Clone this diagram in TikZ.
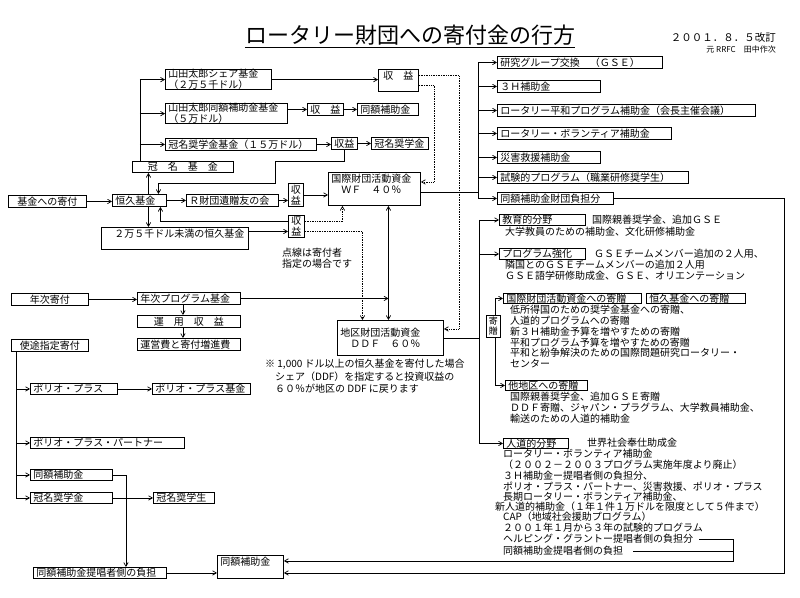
\documentclass[tikz,border=0pt]{standalone}
\usepackage{fontspec}
\setmainfont{Noto Sans CJK JP}
\usetikzlibrary{arrows}

\begin{document}
\begin{tikzpicture}[x=1pt,y=-1pt]
    \tikzset{box/.style = {draw,line width=0.9pt,anchor=north west,inner xsep=3pt,inner ysep=0pt,minimum height=12pt,align=left,font=\fontsize{10}{11}\selectfont}}
    \tikzset{txt/.style = {anchor=north west,inner sep=0pt,align=left,font=\fontsize{10}{10.8}\selectfont}}
    \tikzset{flow/.style = {->,> = angle 60,line width=0.7pt}}
    \tikzset{dotflow/.style = {densely dotted,line width=0.9pt}}
    \useasboundingbox (0,0) rectangle (800,597);
    % title
    \node[inner sep=0pt,font=\fontsize{22}{24}\selectfont] (title) at (410,35) {ロータリー財団への寄付金の行方};
    \draw[line width=1.6pt] ([yshift=-2pt]title.south west) -- ([yshift=-2pt]title.south east);
    \node[txt,anchor=north east,font=\fontsize{10.5}{11}\selectfont] (date) at (776,32) {２００１．８．５改訂};
    \node[txt,anchor=north east,font=\fontsize{8}{9}\selectfont] (author) at (776,46) {元 RRFC　田中作次};
    % endowment side
    \node[box,text width=100pt] (yshare) at (165,69) {山田太郎シェア基金\\（２万５千ドル）};
    \node[box,text width=116pt] (ymatch) at (165,103) {山田太郎同額補助金基金\\（５万ドル）};
    \node[box,text width=145pt] (kanfund) at (165,138) {冠名奨学金基金（１５万ドル）};
    \node[box,text width=34pt,minimum height=22pt,align=center] (inc1) at (378,69) {収　益\\\mbox{}};
    \node[box,text width=30pt,align=center] (inc2) at (307,103) {収　益};
    \node[box,text width=55pt] (mgrant1) at (357,103) {同額補助金};
    \node[box,text width=20pt,align=center] (inc3) at (331,137) {収益};
    \node[box,text width=51pt] (kanschol1) at (371,137) {冠名奨学金};
    \node[box,text width=95pt,minimum height=11pt,align=center] (kanmei) at (132,161) {冠　名　基　金};
    \node[box,text width=72pt,align=center] (kifu) at (8,195) {基金への寄付};
    \node[box,text width=48pt] (kokyu) at (112,194) {恒久基金};
    \node[box,text width=86pt] (bequest) at (186,194) {Ｒ財団遺贈友の会};
    \node[box,text width=11pt,inner xsep=2pt,align=center,minimum height=23pt] (inc4) at (288,183) {収\\益};
    \node[box,text width=86pt,minimum height=33pt] (wf) at (328,172) {国際財団活動資金\\　ＷＦ　４０％\\\mbox{}};
    \node[box,text width=12pt,inner xsep=2pt,align=center,minimum height=22pt] (inc5) at (288,215) {収\\益};
    \node[box,text width=141pt,minimum height=22pt] (under25) at (101,227) {　２万５千ドル未満の恒久基金\\\mbox{}};
    \node[txt] (dotnote) at (282,248) {点線は寄付者\\指定の場合です};
    % annual and designated giving
    \node[box,text width=71pt,align=center] (annual) at (11,293) {年次寄付};
    \node[box,text width=97pt] (annprog) at (137,292) {年次プログラム基金};
    \node[box,text width=97pt,align=center] (unyo) at (137,315) {運　用　収　益};
    \node[box,text width=97pt] (unei) at (137,338) {運営費と寄付増進費};
    \node[box,text width=71pt,align=center] (shito) at (11,339) {使途指定寄付};
    \node[box,text width=100pt,minimum height=35pt] (ddf) at (337,320) {地区財団活動資金\\　ＤＤＦ　６０％};
    \node[txt,font=\fontsize{10}{12.5}\selectfont] (ddfnote) at (265,359) {※ 1,000 ドル以上の恒久基金を寄付した場合\\　シェア（DDF）を指定すると投資収益の\\　６０％が地区の DDF に戻ります};
    \node[box,text width=81pt,minimum height=11pt] (polio) at (30,383) {ポリオ・プラス};
    \node[box,text width=92pt,minimum height=11pt] (poliofund) at (152,383) {ポリオ・プラス基金};
    \node[box,text width=148pt,minimum height=11pt] (partner) at (30,437) {ポリオ・プラス・パートナー};
    \node[box,text width=76pt,minimum height=11pt] (match2) at (30,469) {同額補助金};
    \node[box,text width=76pt,minimum height=11pt] (kanschol2) at (30,492) {冠名奨学金};
    \node[box,text width=55pt,minimum height=11pt] (kanstud) at (153,492) {冠名奨学生};
    \node[box,text width=127pt,minimum height=11pt] (sponsor) at (33,567) {同額補助金提唱者側の負担};
    \node[box,text width=60pt,minimum height=23pt] (match3) at (217,555) {同額補助金\\\mbox{}};
    % WF programmes
    \node[box,text width=159pt] (gse) at (497,56) {研究グループ交換　（ＧＳＥ）};
    \node[box,text width=97pt] (threeH) at (497,80) {３Ｈ補助金};
    \node[box,text width=252pt] (peace) at (497,104) {ロータリー平和プログラム補助金（会長主催会議）};
    \node[box,text width=168pt] (volunteer) at (497,127) {ロータリー・ボランティア補助金};
    \node[box,text width=97pt] (disaster) at (497,151) {災害救援補助金};
    \node[box,text width=185pt] (pilot) at (497,171) {試験的プログラム（職業研修奨学生）};
    \node[box,text width=110pt] (fdshare) at (497,192) {同額補助金財団負担分};
    % DDF programmes
    \node[box,text width=80pt,minimum height=11pt] (edu) at (499,214) {教育的分野};
    \node[txt,anchor=west] (edutxt) at (592,220) {国際親善奨学金、追加ＧＳＥ};
    \node[txt] (edutxt2) at (505,227) {大学教員のための補助金、文化研修補助金};
    \node[box,text width=80pt,minimum height=11pt] (prog) at (499,248) {プログラム強化};
    \node[txt,anchor=west] (progtxt) at (594,254) {ＧＳＥチームメンバー追加の２人用、};
    \node[txt] (progtxt2) at (505,260) {隣国とのＧＳＥチームメンバーの追加２人用\\ＧＳＥ語学研修助成金、ＧＳＥ、オリエンテーション};
    \node[box,text width=132pt,minimum height=10pt] (wfdon) at (503,293) {国際財団活動資金への寄贈};
    \node[box,text width=93pt,minimum height=10pt] (endow) at (646,293) {恒久基金への寄贈};
    \node[txt] (wfdontxt) at (510,305) {低所得国のための奨学金基金への寄贈、\\人道的プログラムへの寄贈\\新３Ｈ補助金予算を増やすための寄贈\\平和プログラム予算を増やすための寄贈\\平和と紛争解決のための国際問題研究ロータリー・\\センター};
    \node[box,text width=76pt,minimum height=10pt] (otherdist) at (505,380) {他地区への寄贈};
    \node[txt] (otherdisttxt) at (510,392) {国際親善奨学金、追加ＧＳＥ寄贈\\ＤＤＦ寄贈、ジャパン・プラグラム、大学教員補助金、\\輸送のための人道的補助金};
    \node[box,text width=59pt,minimum height=10pt] (human) at (503,438) {人道的分野};
    \node[txt,anchor=west] (humantxt) at (587,443) {世界社会奉仕助成金};
    \node[txt] (humantxt2) at (503,449) {ロータリー・ボランティア補助金\\（２００２－２００３プログラム実施年度より廃止）\\３Ｈ補助金ー提唱者側の負担分、\\ポリオ・プラス・パートナー、災害救援、ポリオ・プラス\\長期ロータリー・ボランティア補助金、};
    \node[txt] (humantxt3) at (495,502) {新人道的補助金（１年１件１万ドルを限度として５件まで）};
    \node[txt] (humantxt4) at (503,512) {CAP（地域社会援助プログラム）\\２００１年１月から３年の試験的プログラム};
    \node[txt,anchor=west] (helping) at (503,539) {ヘルピング・グラントー提唱者側の負担分};
    \node[txt,anchor=west] (sponsor2) at (503,551) {同額補助金提唱者側の負担};
    % edges, endowment
    \draw[flow] (kifu.east) -- (kifu.east -| kokyu.west);
    \draw[flow] (kokyu.east) -- (kokyu.east -| bequest.west);
    \draw[flow] (bequest.east) -- (bequest.east -| inc4.west);
    \draw[flow] (inc4.east) -- (inc4.east -| wf.west);
    \coordinate (ktrunk) at ([xshift=-43pt]kanmei.north);
    \draw (ktrunk) -- (ktrunk |- yshare.west);
    \foreach \n in {yshare,ymatch,kanfund} \draw[flow] (ktrunk |- \n.west) -- (\n.west);
    \coordinate (kup) at ([xshift=9pt]kokyu.north);
    \coordinate (kdn) at ([xshift=9pt]kokyu.south);
    \draw[flow] (kup) -- (kup |- kanmei.south);
    \draw[flow] (kdn) -- (kdn |- under25.north);
    \draw[flow] (yshare.east) -- (yshare.east -| inc1.west);
    \draw[flow] (inc2.west -| ymatch.east) -- (inc2.west);
    \draw[flow] (inc2) -- (mgrant1);
    \draw[flow] (kanfund.east) -- (kanfund.east -| inc3.west);
    \draw[flow] (inc3) -- (kanschol1);
    \coordinate (kret) at ([xshift=19pt]kokyu.north);
    \draw[flow] (inc3.south) -- ++(0,11) -| ++(-69,22) -| (kret);
    \coordinate (i5a) at ([yshift=5pt]inc5.west);
    \coordinate (i5b) at ([yshift=-5pt]inc5.west);
    \coordinate (kret2) at ([xshift=21pt]kokyu.south);
    \draw[flow] (i5a) -| (kret2);
    \draw[flow] (i5b -| under25.east) -- (i5b);
    % dotted = donor designated
    \coordinate (i1a) at ([yshift=5pt]inc1.east);
    \coordinate (i1b) at ([yshift=-5pt]inc1.east);
    \coordinate (ddfin) at ([yshift=9pt]ddf.east);
    \coordinate (wfin) at ([yshift=7pt]wf.east);
    \draw[dotflow,flow] (i1a) -- ++(40,0) |- (ddfin);
    \draw[dotflow,flow] (i1b) -- ++(15,0) |- (wfin);
    \coordinate (i5c) at ([yshift=5pt]inc5.east);
    \coordinate (i5d) at ([yshift=-5pt]inc5.east);
    \draw[dotflow,flow] (i5c) -| ([xshift=-32pt]wf.south);
    \draw[dotflow,flow] (i5d) -| ([xshift=-28pt]ddf.north);
    % WF <-> DDF
    \coordinate (wfbot) at ([xshift=14pt]wf.south);
    \draw[<->,>=angle 60,line width=0.7pt] (wfbot) -- (wfbot |- ddf.north);
    \draw[flow] (annprog.east) -- (annprog.east -| wfbot);
    \draw[flow] (annual.east) -- (annual.east -| annprog.west);
    \draw[flow] ([xshift=-6pt]annprog.south) -- ([xshift=-6pt]unyo.north);
    \draw[flow] ([xshift=-6pt]unyo.south) -- ([xshift=-6pt]unei.north);
    % WF list
    \coordinate (rtrunk) at ([xshift=-19pt]gse.west);
    \draw (rtrunk) -- (rtrunk |- fdshare.west);
    \draw ([yshift=-3pt]wf.east) -- ([yshift=-3pt]wf.east -| rtrunk);
    \foreach \n in {gse,threeH,peace,volunteer,disaster,pilot,fdshare} \draw[flow] (rtrunk |- \n.west) -- (\n.west);
    % DDF list
    \coordinate (ltrunk) at ([xshift=-20pt]edu.west);
    \draw (ltrunk) -- (ltrunk |- human.west);
    \draw (ddf.east) -- (ddf.east -| ltrunk);
    \foreach \n in {edu,prog,human} \draw[flow] (ltrunk |- \n.west) -- (\n.west);
    \coordinate (gtrunk) at ([xshift=-8pt]wfdon.west);
    \draw (gtrunk) -- (gtrunk |- otherdist.west);
    \foreach \n in {wfdon,otherdist} \draw[flow] (gtrunk |- \n.west) -- (\n.west);
    \node[box,fill=white,inner xsep=1pt,text width=12pt,align=center,minimum height=22pt,font=\fontsize{9}{10}\selectfont] (kizo) at (486,315) {寄\\贈};
    % matching grants
    \coordinate (m3a) at ([yshift=6pt]match3.east);
    \coordinate (m3b) at ([yshift=-6pt]match3.east);
    \draw[flow] (fdshare.east) -- ++(170,0) |- (m3b);
    \coordinate (hjoin) at (733,551);
    \draw[flow] ([xshift=6pt]helping.east) -| (hjoin) |- (m3a);
    \draw ([xshift=10pt]sponsor2.east) -- (hjoin);
    % designated gifts
    \coordinate (strunk) at ([xshift=5pt]shito.south west);
    \draw[flow] (strunk) |- (kanschol2.west);
    \foreach \n in {polio,partner,match2} \draw[flow] (strunk |- \n.west) -- (\n.west);
    \draw[flow] (polio) -- (poliofund);
    \draw[flow] (kanschol2) -- (kanstud);
    \draw[flow] (match2.east) -| ([xshift=26pt]sponsor.north);
    \draw[flow] (sponsor.east) -- (sponsor.east -| match3.west);
\end{tikzpicture}
\end{document}
